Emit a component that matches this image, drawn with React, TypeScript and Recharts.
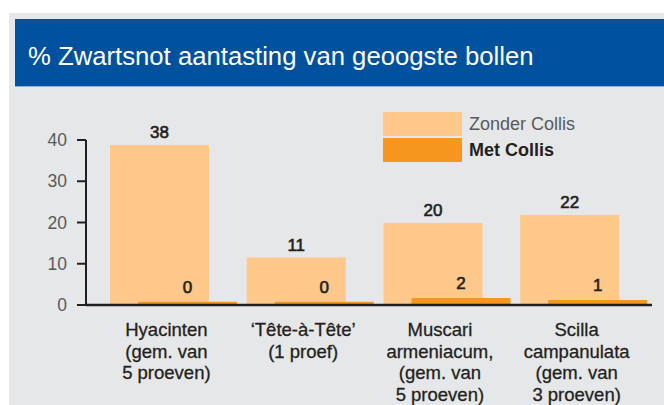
import { BarChart, Bar, XAxis, YAxis, LabelList, Legend } from "recharts";

// gewassen (regels van het aslabel gescheiden door |)
const categories = [
  "Hyacinten|(gem. van|5 proeven)",
  "‘Tête-à-Tête’|(1 proef)",
  "Muscari|armeniacum,|(gem. van|5 proeven)",
  "Scilla|campanulata|(gem. van|3 proeven)",
];
const zonderCollis = [38.8, 11.5, 19.9, 21.8];
const metCollis = [0.8, 0.8, 1.7, 1.2];
const zonderLabels = ["38", "11", "20", "22"];
const metLabels = ["0", "0", "2", "1"];
const yTicks = [0, 10, 20, 30, 40];

const FONT = "'Liberation Sans', Arial, Helvetica, sans-serif";
const LIGHT = "#fdc88a";
const DARK = "#f7961e";
const INK = "#231f20";

const data = categories.map((name, i) => ({
  name,
  zonder: zonderCollis[i],
  met: metCollis[i],
  zonderLabel: zonderLabels[i],
  metLabel: metLabels[i],
}));

function CategoryTick({ x, y, payload }: any) {
  const lines = String(payload.value).split("|");
  const cx = x - 7;
  return (
    <text
      x={cx}
      y={y}
      textAnchor="middle"
      fill={INK}
      stroke={INK}
      strokeWidth={0.3}
      fontSize={18.5}
      fontFamily={FONT}
    >
      {lines.map((line, i) => (
        <tspan key={i} x={cx} dy={i === 0 ? 31 : 21.5}>
          {line}
        </tspan>
      ))}
    </text>
  );
}

function LegendBox() {
  const row = { display: "flex", alignItems: "center", height: 24, marginBottom: 2 };
  return (
    <div style={{ fontFamily: FONT }}>
      <div style={row}>
        <div style={{ width: 79, height: 24, background: LIGHT }} />
        <span style={{ marginLeft: 7, fontSize: 18, color: "#58595b" }}>Zonder Collis</span>
      </div>
      <div style={row}>
        <div style={{ width: 79, height: 24, background: DARK }} />
        <span style={{ marginLeft: 7, fontSize: 18, fontWeight: "bold", color: INK }}>
          Met Collis
        </span>
      </div>
    </div>
  );
}

const valueLabelStyle = {
  fill: INK,
  stroke: INK,
  strokeWidth: 0.6,
  fontSize: 17,
  fontFamily: FONT,
};

export default function App() {
  return (
    <div
      style={{
        position: "absolute",
        left: 0,
        top: 0,
        width: 664,
        height: 405,
        background: "#ffffff",
        overflow: "hidden",
        fontFamily: FONT,
      }}
    >
      <div
        style={{
          position: "absolute",
          left: 9,
          top: 13,
          width: 660,
          height: 400,
          background: "#e6e7e9",
        }}
      />
      <div
        style={{
          position: "absolute",
          left: 15,
          top: 19,
          width: 660,
          height: 67,
          background: "#00519e",
          borderBottom: "1.5px solid #8fb3dd",
        }}
      >
        <div
          style={{
            position: "absolute",
            left: 13,
            top: 22,
            color: "#ffffff",
            fontSize: 25.7,
            lineHeight: "30px",
            whiteSpace: "nowrap",
          }}
        >
          % Zwartsnot aantasting van geoogste bollen
        </div>
      </div>
      <div style={{ position: "absolute", left: 0, top: 0 }}>
        <BarChart
          width={664}
          height={405}
          data={data}
          margin={{ top: 140, right: 12, bottom: 0, left: 0 }}
          barSize={99}
          barGap={-71}
        >
          <YAxis
            width={86}
            domain={[0, 40]}
            ticks={yTicks}
            interval={0}
            tickSize={9}
            tickMargin={10}
            axisLine={{ stroke: INK, strokeWidth: 2 }}
            tickLine={{ stroke: INK, strokeWidth: 2 }}
            tick={{ fill: "#58595b", fontSize: 17.5, fontFamily: FONT }}
          />
          <XAxis
            dataKey="name"
            height={100}
            padding={{ left: 19, right: 0 }}
            interval={0}
            tickLine={false}
            tickSize={0}
            tickMargin={0}
            axisLine={{ stroke: INK, strokeWidth: 2.5 }}
            tick={<CategoryTick />}
          />
          <Legend
            layout="horizontal"
            verticalAlign="middle"
            align="center"
            content={<LegendBox />}
            wrapperStyle={{ position: "absolute", left: 383, top: 112, width: 220 }}
          />
          <Bar dataKey="zonder" fill={LIGHT} isAnimationActive={false}>
            <LabelList dataKey="zonderLabel" position="top" offset={7} {...valueLabelStyle} />
          </Bar>
          <Bar dataKey="met" fill={DARK} isAnimationActive={false}>
            <LabelList dataKey="metLabel" position="top" offset={9} {...valueLabelStyle} />
          </Bar>
        </BarChart>
      </div>
    </div>
  );
}
